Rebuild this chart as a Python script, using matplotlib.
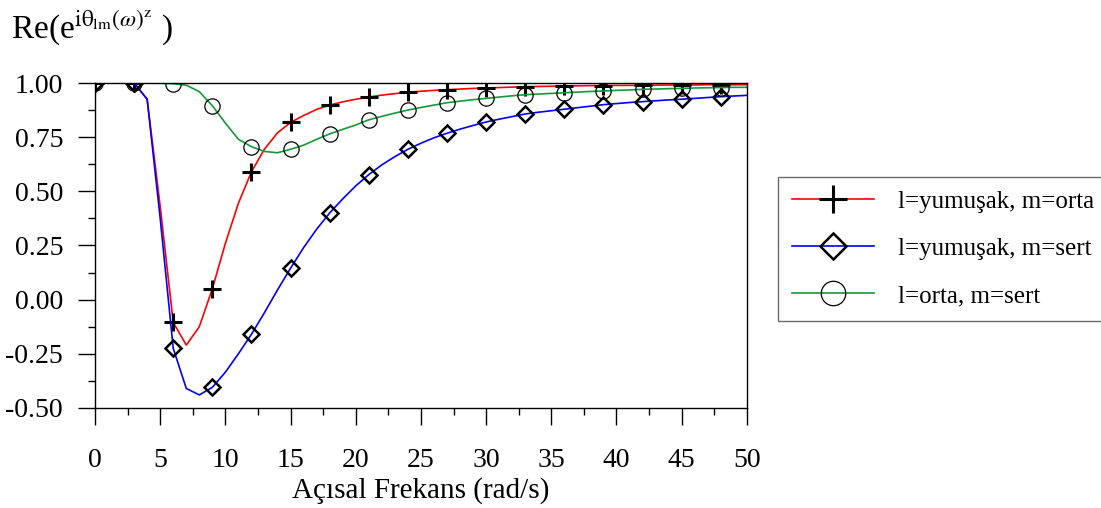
import matplotlib
matplotlib.use("Agg")
import matplotlib.pyplot as plt
from matplotlib.ticker import MultipleLocator

plt.rcParams["font.family"] = ["Liberation Serif", "DejaVu Serif"]
plt.rcParams["mathtext.fontset"] = "stix"

# angular frequency grid (rad/s)
omega = list(range(0, 51))

soft_medium = [
    1.0, 1.0, 1.0, 1.0, 0.925, 0.43, -0.105, -0.21, -0.125, 0.05,
    0.26, 0.445, 0.59, 0.695, 0.77, 0.818, 0.85, 0.878, 0.898, 0.913,
    0.925, 0.935, 0.944, 0.951, 0.957, 0.962, 0.966, 0.969, 0.972, 0.975,
    0.977, 0.979, 0.981, 0.983, 0.984, 0.985, 0.986, 0.987, 0.988, 0.988,
    0.989, 0.989, 0.99, 0.99, 0.991, 0.991, 0.991, 0.992, 0.992, 0.992,
    0.992,
]
soft_hard = [
    1.0, 1.0, 1.0, 1.0, 0.925, 0.375, -0.225, -0.41, -0.44, -0.405,
    -0.335, -0.25, -0.16, -0.06, 0.045, 0.145, 0.24, 0.325, 0.4, 0.465,
    0.525, 0.577, 0.622, 0.66, 0.694, 0.722, 0.747, 0.768, 0.787, 0.804,
    0.82, 0.833, 0.845, 0.857, 0.865, 0.872, 0.879, 0.886, 0.893, 0.9,
    0.905, 0.91, 0.914, 0.918, 0.922, 0.925, 0.929, 0.933, 0.937, 0.94,
    0.943,
]
medium_hard = [
    1.0, 1.0, 1.0, 1.0, 1.0, 0.999, 0.997, 0.99, 0.96, 0.895,
    0.815, 0.74, 0.706, 0.684, 0.678, 0.694, 0.713, 0.74, 0.765, 0.786,
    0.806, 0.83, 0.846, 0.861, 0.875, 0.887, 0.898, 0.909, 0.916, 0.923,
    0.929, 0.935, 0.941, 0.946, 0.949, 0.952, 0.955, 0.958, 0.961, 0.963,
    0.966, 0.968, 0.971, 0.972, 0.974, 0.975, 0.977, 0.978, 0.979, 0.98,
    0.98,
]

fig = plt.figure(figsize=(11.01, 5.08), dpi=100)
ax = fig.add_axes([0.0863, 0.197, 0.592, 0.6396])

ax.plot(omega, soft_medium, color="#ff0000", lw=1.2, marker="+", markevery=3,
        ms=13, mec="black", mew=2.2, label="l=yumuşak, m=orta")
ax.plot(omega, soft_hard, color="#0000ff", lw=1.2, marker="D", markevery=3,
        ms=8, mfc="none", mec="black", mew=1.8, label="l=yumuşak, m=sert")
ax.plot(omega, medium_hard, color="#129a3a", lw=1.2, marker="o", markevery=3,
        ms=11, mfc="none", mec="black", mew=0.9, label="l=orta, m=sert")

ax.set_xlim(0, 50)
ax.set_ylim(-0.5, 1.0)
ax.xaxis.set_major_locator(MultipleLocator(5))
ax.xaxis.set_minor_locator(MultipleLocator(2.5))
ax.yaxis.set_major_locator(MultipleLocator(0.25))
ax.yaxis.set_minor_locator(MultipleLocator(0.125))
ax.yaxis.set_major_formatter(matplotlib.ticker.FormatStrFormatter("%.2f"))
ax.tick_params(which="major", direction="out", length=12, width=1, labelsize=20)
ax.tick_params(axis="x", which="major", pad=17)
ax.tick_params(axis="y", which="major", pad=11)
ax.tick_params(which="minor", direction="out", length=5, width=1)
for s in ax.spines.values():
    s.set_linewidth(1)
ax.set_xlabel("Açısal Frekans (rad/s)", fontsize=21, labelpad=3)

fig.text(0.01, 0.925, r"Re(e$^{\mathrm{i\theta_{lm}}(\omega)^{\mathrm{z}}}$ )",
         fontsize=24, va="baseline")

leg = fig.legend(loc="upper left", bbox_to_anchor=(0.7066, 0.652), fontsize=18,
                 frameon=True, fancybox=False, edgecolor="#444444",
                 handlelength=3.3, handletextpad=0.95, labelspacing=0.98,
                 markerscale=1.6, borderpad=0.55, borderaxespad=0)
leg.get_frame().set_linewidth(1)

fig.savefig("out.png", dpi=100)
